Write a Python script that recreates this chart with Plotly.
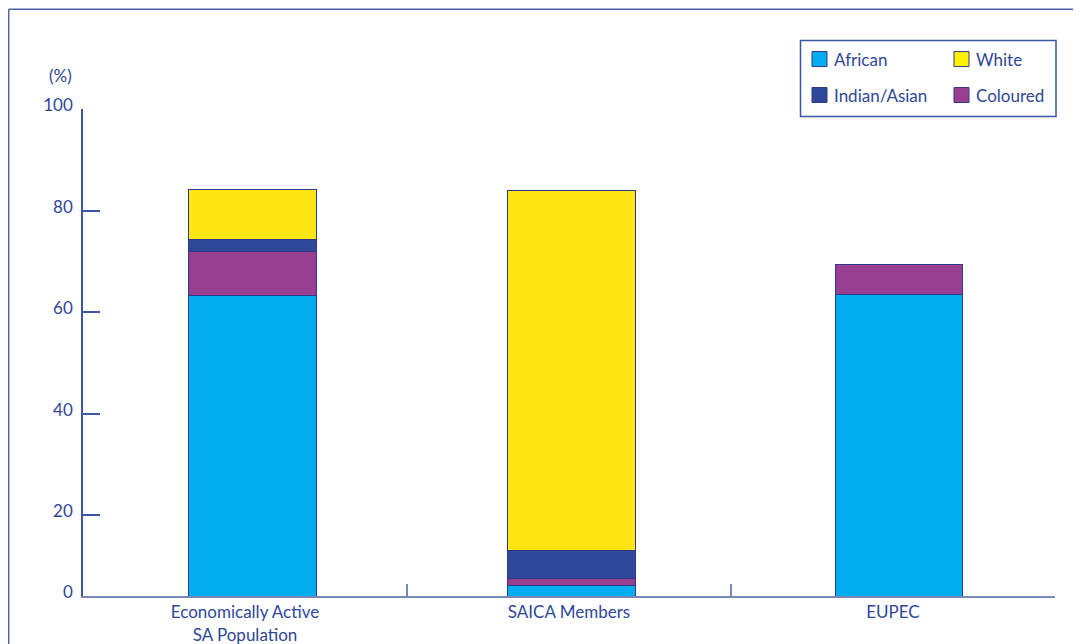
import plotly.graph_objects as go

# ---- data ----
categories = ["Economically Active<br>SA Population", "SAICA Members", "EUPEC"]
african = [63.3, 6.3, 63.5]
coloured = [8.6, 1.2, 5.8]
indian_asian = [2.5, 5.7, 0]
white = [9.8, 70.8, 0]
y_tick_vals = [4.15, 20, 40, 60, 80, 100]
y_tick_text = ["0", "20", "40", "60", "80", "100"]
y_range = [4.15, 100]

# ---- style ----
OFF = 8  # page body margin
SW, SH = 1081, 644  # screen size
W, H = SW - OFF, SH - OFF
# screen coordinates of plot area
S_L, S_R, S_T, S_B = 83, 1055, 108.5, 596
ML, MR, MT, MB = S_L - OFF, SW - S_R, S_T - OFF, SH - S_B
TEXT = "#2E4799"
AXIS = "#7C87B6"
OUTLINE = "#2E3A87"
FONT = "Lato"
col_african = "#00AEEF"
col_coloured = "#993F91"
col_indian = "#2E4799"
col_white = "#FFE512"
col_white_leg = "#FFF200"
bar_offsets = [-0.173, -0.191, -0.179]

pw = W - ML - MR
ph = H - MT - MB


def px(x):
    # screen x -> paper
    return (x - S_L) / pw


def py(y):
    # screen y -> paper
    return (S_B - y) / ph


fig = go.Figure()
series = [
    ("African", african, col_african),
    ("Coloured", coloured, col_coloured),
    ("Indian/Asian", indian_asian, col_indian),
    ("White", white, col_white),
]
for name, vals, col in series:
    fig.add_trace(go.Bar(
        x=categories, y=vals, name=name, marker=dict(color=col, line=dict(color=OUTLINE, width=1)),
        width=0.395, offset=bar_offsets, showlegend=False,
    ))

shapes = []
# outer frame
shapes.append(dict(type="line", xref="paper", yref="paper", x0=px(8.7), x1=px(1100), y0=py(8.7), y1=py(8.7),
                   line=dict(color="#4F63A8", width=1.5)))
shapes.append(dict(type="line", xref="paper", yref="paper", x0=px(8.7), x1=px(8.7), y0=py(8.7), y1=py(700),
                   line=dict(color="#4F63A8", width=1.5)))
# legend box
shapes.append(dict(type="rect", xref="paper", yref="paper", x0=px(800.5), x1=px(1056), y0=py(40), y1=py(116),
                   line=dict(color="#3E55A3", width=1.5), fillcolor="white"))
legend_items = [
    ("African", col_african, 812, 51),
    ("White", col_white_leg, 954, 51),
    ("Indian/Asian", col_indian, 812, 87),
    ("Coloured", col_coloured, 954, 87),
]
annotations = []
for label, col, lx, ly in legend_items:
    shapes.append(dict(type="rect", xref="paper", yref="paper", x0=px(lx), x1=px(lx + 15), y0=py(ly), y1=py(ly + 15),
                       line=dict(color=OUTLINE, width=1), fillcolor=col))
    annotations.append(dict(text=label, xref="paper", yref="paper", x=px(lx + 20), y=py(ly + 8),
                            xanchor="left", yanchor="middle", showarrow=False,
                            font=dict(family=FONT, size=17, color=TEXT)))
annotations.append(dict(text="(%)", xref="paper", yref="paper", x=px(60), y=py(75), xanchor="center",
                        yanchor="middle", showarrow=False, font=dict(family=FONT, size=17, color=TEXT)))

fig.update_layout(
    width=W, height=H, barmode="stack",
    margin=dict(l=ML, r=MR, t=MT, b=MB, pad=0, autoexpand=False),
    plot_bgcolor="white", paper_bgcolor="white",
    font=dict(family=FONT, size=16, color=TEXT),
    shapes=shapes, annotations=annotations,
    xaxis=dict(showline=True, linecolor=AXIS, linewidth=2, ticks="inside", tickson="boundaries",
               ticklen=12, tickcolor=AXIS, tickwidth=2, showgrid=False, zeroline=False, automargin=False,
               tickfont=dict(family=FONT, size=17, color=TEXT), ticklabelstandoff=0),
    yaxis=dict(range=y_range, tickvals=y_tick_vals, ticktext=y_tick_text, showline=True, linecolor="#3C55A5",
               linewidth=1.5, ticks="inside", ticklen=17, tickcolor="#3C55A5", tickwidth=1.5,
               showgrid=False, zeroline=False, automargin=False, ticklabelshift=-4,
               tickfont=dict(family=FONT, size=17, color=TEXT), ticklabelstandoff=5),
)

fig.write_html("out.html")
